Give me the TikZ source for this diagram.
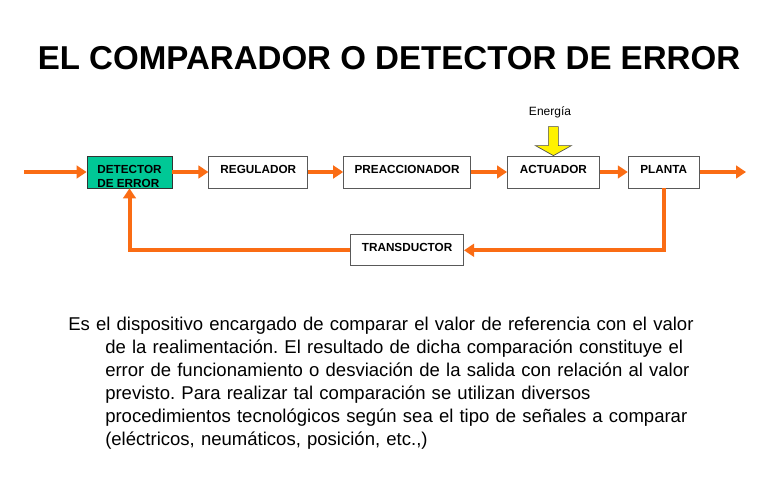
\documentclass[tikz,border=0pt]{standalone}
\usepackage{fontspec}
\setmainfont{Liberation Sans}
\usepackage{xcolor}
\usetikzlibrary{positioning,arrows.meta}
\definecolor{flow}{RGB}{250,108,20}
\definecolor{detgreen}{RGB}{0,200,150}
\tikzset{
  block/.style={ % image of one block of the loop
    draw=black!65, line width=.6pt, rectangle, fill=white,
    minimum height=24pt, inner sep=0pt, text depth=4.5pt,
    font=\fontsize{8.8}{10.5}\selectfont\bfseries
  },
  signal/.style={ % orange signal line
    draw=flow, line width=3pt, -{Triangle[length=7.5pt,width=9.5pt]}
  },
  energy/.style={ % yellow block arrow
    draw=black!70, fill=yellow, line width=.5pt
  }
}
\begin{document}
\begin{tikzpicture}[x=.75pt, y=-.75pt]
  \fill[white] (0,0) rectangle (780,495);
  \useasboundingbox (0,0) rectangle (780,495);

  \node[font=\fontsize{24.8}{28}\selectfont\bfseries] (title) at (389,58)
    {EL COMPARADOR O DETECTOR DE ERROR};

  \node[block, fill=detgreen, draw=black!80, minimum width=63.75pt,
    align=left, text depth=0pt, text height=22.8pt] (det) at (129.5,172)
    {DETECTOR\\DE ERROR};
  \node[block, minimum width=74.25pt, right=27pt of det] (reg) {REGULADOR};
  \node[block, minimum width=95.25pt, right=26.25pt of reg] (pre) {PREACCIONADOR};
  \node[block, minimum width=69pt, right=27pt of pre] (act) {ACTUADOR};
  \node[block, minimum width=53.25pt, right=21pt of act] (pla) {PLANTA};
  \node[block, minimum width=84.75pt, minimum height=23.25pt,
    below=34.5pt of pre] (tra) {TRANSDUCTOR};

  \node[font=\fontsize{9}{11}\selectfont] (en) at (550,112) {Energía};
  \draw[energy] ([shift={(-5,-29)}]act.north) -- ++(10,0) -- ++(0,19)
    -- ++(13,0) -- (act.north) -- ++(-18,-10) -- ++(13,0) -- cycle;

  \coordinate (in) at (24,172);
  \coordinate (out) at (746,172);
  \draw[signal] (in) -- (det);
  \draw[signal] (det) -- (reg);
  \draw[signal] (reg) -- (pre);
  \draw[signal] (pre) -- (act);
  \draw[signal] (act) -- (pla);
  \draw[signal] (pla) -- (out);
  \draw[signal] (pla.south) |- (tra.east);
  \draw[signal] (tra.west) -| (det.south);

  \node[anchor=north west, inner sep=0pt, text width=540pt,
    font=\fontsize{13.9}{17.2}\selectfont] (desc) at (68,317)
    {\raggedright\frenchspacing\leavevmode\hangindent=27.75pt\hangafter=1
     Es el dispositivo encargado de comparar el valor de referencia con el valor\newline
     de la realimentación. El resultado de dicha comparación constituye el\newline
     error de funcionamiento o desviación de la salida con relación al valor\newline
     previsto. Para realizar tal comparación se utilizan diversos\newline
     procedimientos tecnológicos según sea el tipo de señales a comparar\newline
     (eléctricos, neumáticos, posición, etc.,)\par};
\end{tikzpicture}
\end{document}
